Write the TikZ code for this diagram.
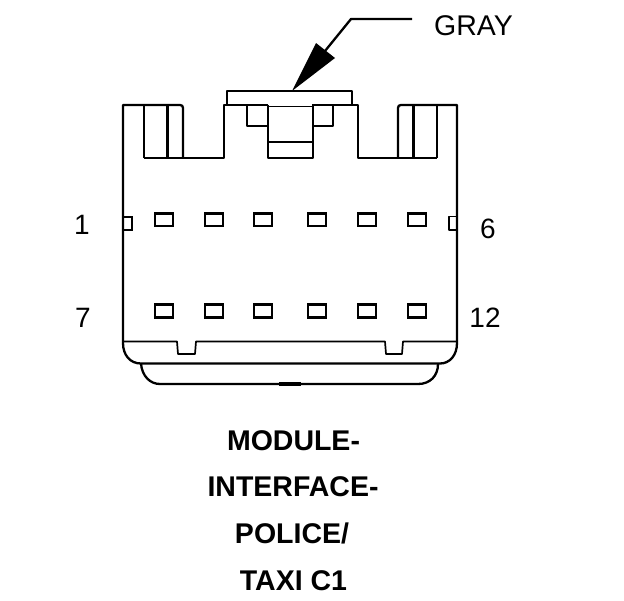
\documentclass[tikz,border=0pt]{standalone}
\usepackage{fontspec}
\setmainfont{Liberation Sans}
\tikzset{
  outline/.style={line width=2.3pt, line join=round},
  thin line/.style={line width=1.7pt, line join=round},
  pin/.style={line width=2.2pt},
  pinlabel/.style={font=\fontsize{28}{28}\selectfont, inner sep=0pt},
  graylabel/.style={font=\fontsize{28.5}{28.5}\selectfont, inner sep=0pt},
  title/.style={font=\fontsize{28.5}{28.5}\selectfont\bfseries, inner sep=0pt}
}

\begin{document}
\begin{tikzpicture}[x=1pt, y=-1pt]

  \useasboundingbox (0,0) rectangle (624,600);

  % leader
  \node[graylabel, anchor=west] (gray) at (434,26) {GRAY};
  \coordinate (leadEnd) at (412,19);
  \coordinate (leadBend) at (351,19);
  \coordinate (leadTip) at (292,91);
  \coordinate (wingA) at (316,43);
  \coordinate (wingB) at (335,58);
  \draw[outline] (leadEnd) -- (leadBend) -- (325,51);
  \fill (leadTip) -- (wingA) -- (wingB) -- cycle;

  % top of housing
  \draw[outline] (227,104) -- (227,91) -- (352,91) -- (352,104);
  \draw[outline] (123,343) -- (123,105) -- (180,105)
    .. controls (182,105) and (183,106) .. (183,108) -- (183,158);
  \draw[outline] (144,158) -- (224,158) -- (224,105) -- (268,105);
  \draw[outline] (312,105) -- (358,105) -- (358,158) -- (437,158);
  \draw[outline] (167.5,105) -- (167.5,158);
  \draw[thin line] (144,158) -- (144,105);
  \draw[thin line] (268,106.5) -- (313,106.5);
  \draw[thin line] (247,105) -- (247,126) -- (268,126);
  \draw[thin line] (333,105) -- (333,126) -- (313,126);
  \draw[thin line] (268,105) -- (268,158) -- (313,158) -- (313,105);
  \draw[thin line] (268,142) -- (313,142);
  \draw[outline] (398,158) -- (398,108)
    .. controls (398,106) and (399,105) .. (401,105) -- (457,105) -- (457,343);
  \draw[outline] (413.5,105) -- (413.5,158);
  \draw[thin line] (437,105) -- (437,158);

  % pin cavities
  \foreach \x in {155,205,254,308,358,408}{
    \draw[pin] (\x,213.5) rectangle +(18,12.5);
    \draw[pin] (\x,304.5) rectangle +(18,13);
  }
  \draw[pin] (123,217) -- (132,217) -- (132,230) -- (123,230);
  \draw[thin line] (457,216.5) -- (449,216.5) -- (449,230) -- (457,230);

  % bottom of housing
  \draw[thin line] (123,341.5) -- (177,341.5) -- (178,354) -- (195,354) -- (196,341.5)
    -- (385,341.5) -- (386,354) -- (402,354) -- (403,341.5) -- (457,341.5);
  \draw[outline] (123,343) .. controls (123,355) and (130,363.5) .. (141,363.5) -- (440,363.5)
    .. controls (450,363.5) and (457,355) .. (457,343);
  \draw[outline] (141,363.5) .. controls (142,376) and (150,384) .. (160,384) -- (418,384)
    .. controls (430,384) and (438,376) .. (438,364);
  \draw[line width=3.5pt] (279,384) -- (301,384);

  % pin numbers
  \node[pinlabel] (pinA) at (82,224.5) {1};
  \node[pinlabel] (pinF) at (488,228.5) {6};
  \node[pinlabel] (pinG) at (83,317.5) {7};
  \node[pinlabel] (pinL) at (485,317.5) {12};

  % caption
  \node[title] (lineA) at (293.5,441) {MODULE-};
  \node[title] (lineB) at (293,487) {INTERFACE-};
  \node[title] (lineC) at (292,533) {POLICE/};
  \node[title] (lineD) at (293.5,581) {TAXI C1};

\end{tikzpicture}
\end{document}
